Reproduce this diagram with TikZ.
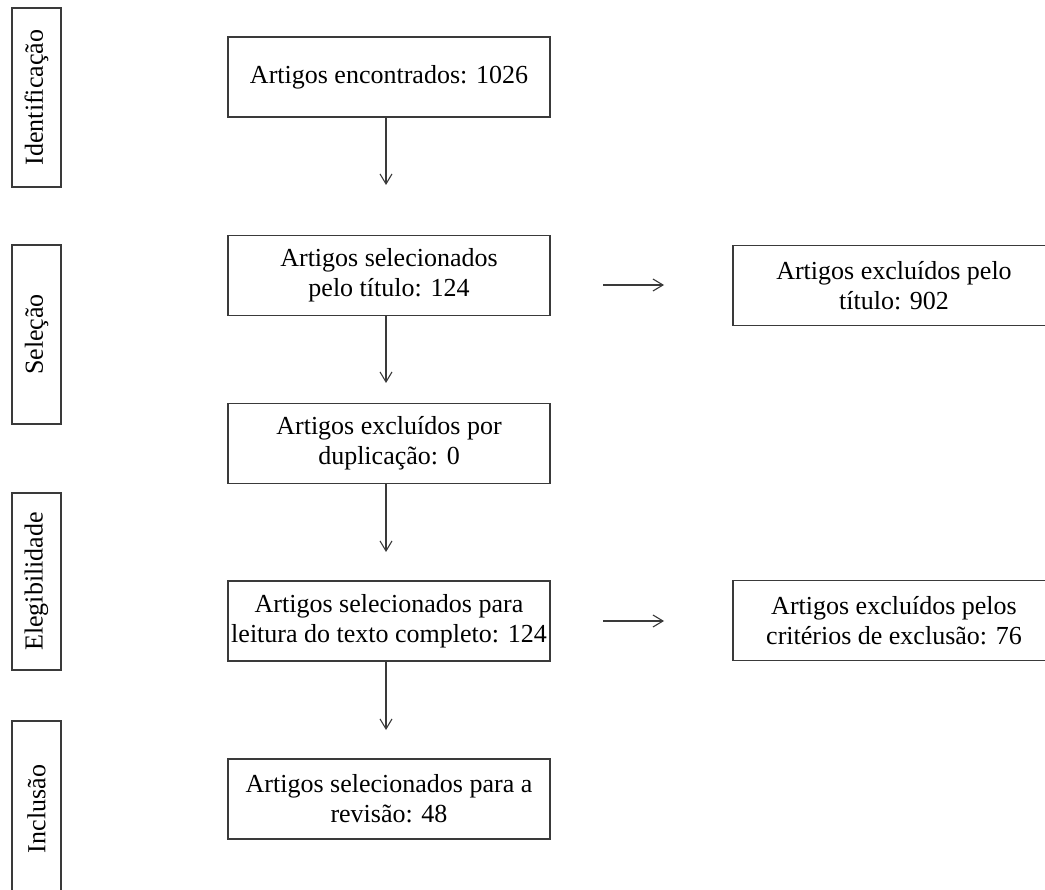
\documentclass[tikz,border=0pt]{standalone}
\usepackage{fontspec}
\setmainfont{Liberation Serif}
\usetikzlibrary{arrows.meta}
\definecolor{edge}{HTML}{3A3A3A}
\begin{document}
\begin{tikzpicture}[x=1pt,y=-1pt,
  every node/.style={font=\fontsize{26}{30}\selectfont, text=black},
  stepbox/.style={draw=edge, line width=1.1pt, minimum width=322pt, minimum height=80pt,
                  inner sep=0pt, align=center},
  phase/.style={draw=edge, line width=1.1pt, minimum height=49pt, inner sep=0pt,
                rotate=90, anchor=center},
  arr/.style={draw=edge, line width=1.1pt, -{Straight Barb[length=10pt,width=12pt,line width=1.1pt]}}]
\useasboundingbox (0,0) rectangle (1045,890);
\clip (0,0) rectangle (1045,890);

% phase labels on the left
\node[phase, minimum width=179pt] (pid)  at (36.5,97.5)  {Identificação};
\node[phase, minimum width=179pt] (psel) at (36.5,334.5) {Seleção};
\node[phase, minimum width=177pt] (pele) at (36.5,581.5) {Elegibilidade};
\node[phase, minimum width=176pt] (pinc) at (36.5,809)   {Inclusão};

% main column
\node[stepbox] (b1) at (389,77)    {Artigos encontrados: 1026};
\node[stepbox] (b2) at (389,275.5) {Artigos selecionados\\pelo título: 124};
\node[stepbox] (b3) at (389,443.5) {Artigos excluídos por\\duplicação: 0};
\node[stepbox] (b4) at (389,621)   {Artigos selecionados para\\leitura do texto completo: 124};
\node[stepbox] (b5) at (389,799)   {Artigos selecionados para a\\revisão: 48};

% exclusions on the right
\node[stepbox] (r1) at (894,285.5) {Artigos excluídos pelo\\título: 902};
\node[stepbox] (r2) at (894,620.5) {Artigos excluídos pelos\\critérios de exclusão: 76};

% arrow end points
\coordinate (a1) at (386,185);
\coordinate (a2) at (386,383);
\coordinate (a3) at (386,552);
\coordinate (a4) at (386,730);
\coordinate (h1s) at (603,285);
\coordinate (h1e) at (664,285);
\coordinate (h2s) at (603,621);
\coordinate (h2e) at (664,621);

\draw[arr] (b1.south -| a1) -- (a1);
\draw[arr] (b2.south -| a2) -- (a2);
\draw[arr] (b3.south -| a3) -- (a3);
\draw[arr] (b4.south -| a4) -- (a4);
\draw[arr] (h1s) -- (h1e);
\draw[arr] (h2s) -- (h2e);
\end{tikzpicture}
\end{document}
